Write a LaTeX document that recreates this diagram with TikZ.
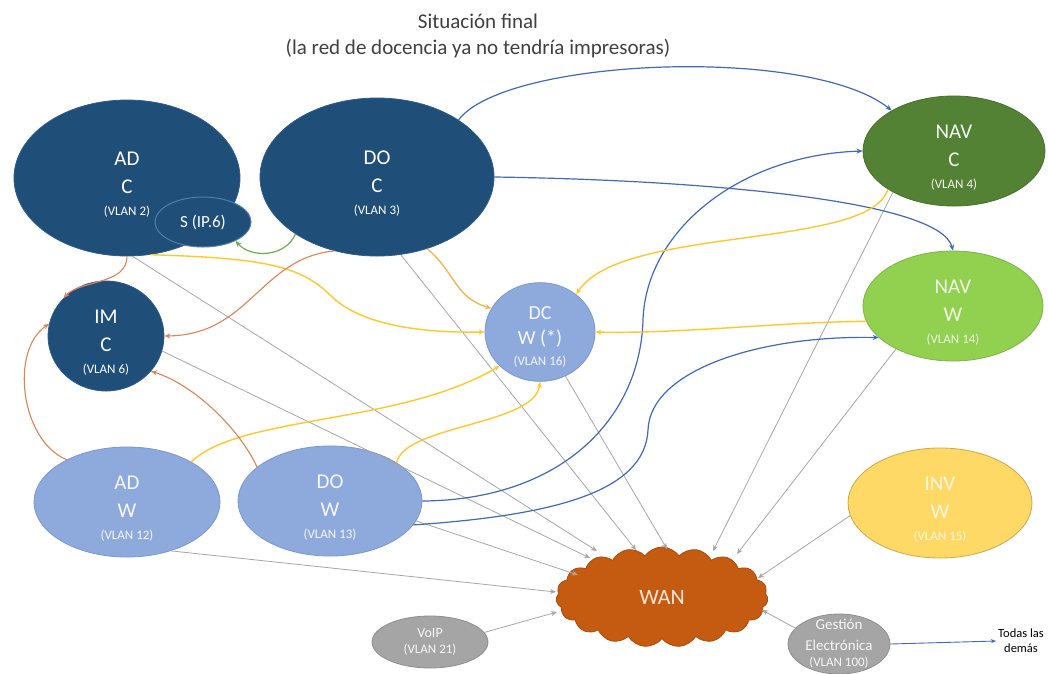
\documentclass[tikz,border=0pt]{standalone}
\usepackage{fontspec}
\setmainfont{Carlito}
\usetikzlibrary{shapes.geometric,shapes.symbols,arrows.meta}
\definecolor{dblue}{HTML}{1F4E79}
\definecolor{dblueline}{HTML}{2F5D8A}
\definecolor{sline}{HTML}{4F7FAE}
\definecolor{dgreen}{HTML}{548235}
\definecolor{dgreenline}{HTML}{46702B}
\definecolor{lgreen}{HTML}{92D050}
\definecolor{lgreenline}{HTML}{7DB443}
\definecolor{lblue}{HTML}{8EA9DB}
\definecolor{lblueline}{HTML}{7A97CF}
\definecolor{invy}{HTML}{FFD966}
\definecolor{invyline}{HTML}{C9A84A}
\definecolor{gnode}{HTML}{A5A5A5}
\definecolor{gnodeline}{HTML}{8E8E8E}
\definecolor{wanc}{HTML}{C55A11}
\definecolor{wanline}{HTML}{A94D0F}
\definecolor{edgegray}{HTML}{A6A6A6}
\definecolor{edgeblue}{HTML}{4169B8}
\definecolor{edgeyellow}{HTML}{FFC72C}
\definecolor{edgeyellowb}{HTML}{F2B447}
\definecolor{edgeorange}{HTML}{DD8355}
\definecolor{edgegreen}{HTML}{70AD47}
\definecolor{titlegray}{HTML}{404040}
\newcommand{\vlantxt}[1]{{\fontsize{13}{15}\selectfont #1}}
\newcommand{\upstrut}{\rule{0pt}{26pt}}
\tikzset{
  vnode/.style={ellipse, inner sep=0pt, align=center, text=white,
    font=\fontsize{21}{28}\selectfont, line width=0.8pt},
  darknode/.style={vnode, fill=dblue, draw=dblueline},
  lbnode/.style={vnode, fill=lblue, draw=lblueline, text=white!92!lblue},
  graynode/.style={ellipse, inner sep=0pt, fill=gnode, draw=gnodeline, line width=0.8pt},
  graytext/.style={align=center, text=white!90!gnode, inner sep=0pt},
  tipA/.style={-{Stealth[length=6pt,width=5pt]}},
  grayarrow/.style={draw=edgegray, line width=0.8pt, tipA},
  bluearrow/.style={draw=edgeblue, line width=1.2pt, tipA},
  yellowarrow/.style={draw=edgeyellow, line width=1.4pt, tipA},
  yellowbarrow/.style={draw=edgeyellowb, line width=1.3pt, tipA},
  orangearrow/.style={draw=edgeorange, line width=1.1pt, tipA},
  greenarrow/.style={draw=edgegreen, line width=1.2pt, tipA},
}
\begin{document}
\begin{tikzpicture}[x=1pt,y=-1pt]
\useasboundingbox (0,0) rectangle (1048,673);
\fill[white] (0,0) rectangle (1048,673);

% title
\node[align=center, text=titlegray, font=\fontsize{21}{26}\selectfont] (title) at (478,36)
  {Situación final\\(la red de docencia ya no tendría impresoras)};

% nodes
\node[darknode, minimum width=226pt, minimum height=156pt] (adc) at (127,178)
  {\upstrut AD\\C\\[-6pt]\vlantxt{(VLAN 2)}};
\node[darknode, draw=sline, line width=1pt, minimum width=96pt, minimum height=50pt,
  font=\fontsize{17}{20}\selectfont] (s) at (203,222) {S (IP.6)};
\node[darknode, minimum width=234pt, minimum height=158pt] (doc) at (377,177)
  {\upstrut DO\\C\\[-6pt]\vlantxt{(VLAN 3)}};
\node[darknode, minimum width=116pt, minimum height=92pt] (imc) at (106,336)
  {\upstrut IM\\C\\[-6pt]\vlantxt{(VLAN 6)}};
\node[vnode, fill=dgreen, draw=dgreenline, text=white!92!dgreen, minimum width=182pt, minimum height=102pt] (nvc) at (954,151)
  {\upstrut NAV\\C\\[-6pt]\vlantxt{(VLAN 4)}};
\node[vnode, fill=lgreen, draw=lgreenline, text=white!85!lgreen, minimum width=180pt, minimum height=104pt] (nvw) at (953,306)
  {\upstrut NAV\\W\\[-6pt]\vlantxt{(VLAN 14)}};
\node[lbnode, minimum width=110pt, minimum height=92pt, font=\fontsize{20}{25}\selectfont] (dcw) at (540,332)
  {\rule{0pt}{22pt}DC\\W (*)\\[-4pt]\vlantxt{(VLAN 16)}};
\node[lbnode, minimum width=186pt, minimum height=102pt] (adw) at (127,502)
  {\upstrut AD\\W\\[-6pt]\vlantxt{(VLAN 12)}};
\node[lbnode, minimum width=184pt, minimum height=102pt] (dow) at (330,501)
  {\upstrut DO\\W\\[-6pt]\vlantxt{(VLAN 13)}};
\node[vnode, fill=invy, draw=invyline, text=white!80!invy, minimum width=184pt, minimum height=106pt] (inv) at (940,503)
  {\upstrut INV\\W\\[-6pt]\vlantxt{(VLAN 15)}};
\node[cloud, cloud puffs=19, cloud puff arc=110, cloud ignores aspect, inner sep=0pt,
  minimum width=212pt, minimum height=100pt, fill=wanc, draw=wanline, line width=0.8pt,
  text=white!85!wanc, font=\fontsize{22}{26}\selectfont] (wan) at (662,597) {WAN};
\node[graynode, minimum width=116pt, minimum height=52pt,
  label={[graytext, font=\fontsize{14}{20}\selectfont]center:VoIP\\[-4pt]\vlantxt{(VLAN 21)}}] (voip) at (430,642) {};
\node[graynode, minimum width=102pt, minimum height=60pt,
  label={[graytext, font=\fontsize{15}{21}\selectfont]center:Gestión\\Electrónica\\[-5pt]\vlantxt{(VLAN 100)}}] (gest) at (839,644) {};
\node[align=center, font=\fontsize{12.5}{15}\selectfont, text=black, inner sep=2pt] (todas) at (1021,641) {Todas las\\demás};

% WAN end points
\coordinate (wA) at (597,551);
\coordinate (wB) at (590,558);
\coordinate (wC) at (636,550);
\coordinate (wD) at (667,549);
\coordinate (wE) at (713,551);
\coordinate (wF) at (737,554);
\coordinate (wG) at (758,578);
\coordinate (wH) at (556,592);
\coordinate (wI) at (578,575);
\coordinate (wJ) at (557,612);
\coordinate (wK) at (762,610);

% gray connectors to WAN
\draw[grayarrow] (adc.-86) -- (wA);
\draw[grayarrow] (imc.-15) -- (wB);
\draw[grayarrow] (doc.-73) -- (wC);
\draw[grayarrow] (dcw.-60) -- (wD);
\draw[grayarrow] (nvc.-146) -- (wE);
\draw[grayarrow] (nvw.-143) -- (wF);
\draw[grayarrow] (inv.188) -- (wG);
\draw[grayarrow] (adw.-48) -- (wH);
\draw[grayarrow] (dow.-13) -- (wI);
\draw[grayarrow] (voip.10) -- (wJ);
\draw[grayarrow] (gest.160) -- (wK);

% blue
\draw[bluearrow] (doc.35) .. controls (505,58) and (810,45) .. (nvc.147);
\draw[bluearrow] (doc.east) .. controls (700,180) and (940,200) .. (nvw.north);
\draw[bluearrow] (dow.east) .. controls (560,500) and (640,420) .. (643,320)
  .. controls (646,230) and (740,155) .. (nvc.west);
\draw[bluearrow] (dow.-16) .. controls (560,515) and (645,490) .. (648,430)
  .. controls (650,370) and (760,335) .. (nvw.203);
\draw[draw=edgeblue, line width=0.9pt, -{Stealth[length=5pt,width=4pt]}] (gest.east) -- (todas.west);

% yellow
\draw[yellowarrow] (adc.-73) .. controls (260,258) and (300,265) .. (330,295)
  .. controls (360,325) and (420,333) .. (dcw.west);
\draw[yellowbarrow] (doc.-55) .. controls (455,272) and (455,298) .. (dcw.154);
\draw[yellowarrow] (nvc.-150) .. controls (870,250) and (620,225) .. (dcw.46);
\draw[yellowarrow] (nvw.190) .. controls (780,322) and (680,334) .. (dcw.east);
\draw[yellowarrow] (adw.32) .. controls (240,415) and (400,425) .. (dcw.-140);
\draw[yellowarrow] (dow.30) .. controls (405,425) and (535,425) .. (dcw.-90);

% orange
\draw[orangearrow] (adc.-90) .. controls (127,285) and (80,280) .. (imc.138);
\draw[orangearrow] (doc.-120) .. controls (260,258) and (250,335) .. (imc.east);
\draw[orangearrow] (adw.145) .. controls (20,440) and (10,350) .. (imc.168);
\draw[orangearrow] (dow.155) .. controls (240,430) and (195,385) .. (imc.-38);

% green
\draw[greenarrow] (doc.-145) .. controls (285,258) and (250,258) .. (s.-30);
\end{tikzpicture}
\end{document}
